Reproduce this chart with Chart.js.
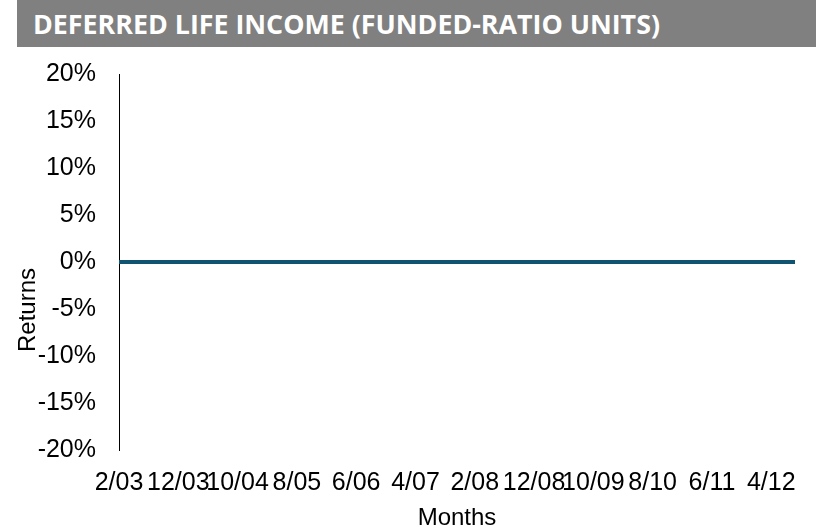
<!DOCTYPE html>
<html>
<head>
<meta charset="utf-8">
<script src="https://cdn.jsdelivr.net/npm/chart.js@4.4.1/dist/chart.umd.min.js"></script>
<style>
  html, body { margin: 0; padding: 0; background: #ffffff; }
  body { width: 816px; height: 529px; position: relative; overflow: hidden; }
  #hdr {
    position: absolute; left: 17px; top: 0px; width: 799px; height: 47px;
    background: #808080; color: #ffffff;
    font-family: "Open Sans", sans-serif; font-weight: 700; font-size: 26.8px;
    line-height: 48px; padding-left: 16px; box-sizing: border-box; white-space: nowrap;
  }
  #wrap { position: absolute; left: 0; top: 47px; width: 816px; height: 482px; }
</style>
</head>
<body>
<div id="hdr">DEFERRED LIFE INCOME (FUNDED-RATIO UNITS)</div>
<div id="wrap"><canvas id="c"></canvas></div>
<script>
// ---- data ----
const categories = [
  "2/03","3/03","4/03","5/03","6/03","7/03","8/03","9/03","10/03","11/03","12/03",
  "1/04","2/04","3/04","4/04","5/04","6/04","7/04","8/04","9/04","10/04","11/04","12/04",
  "1/05","2/05","3/05","4/05","5/05","6/05","7/05","8/05","9/05","10/05","11/05","12/05",
  "1/06","2/06","3/06","4/06","5/06","6/06","7/06","8/06","9/06","10/06","11/06","12/06",
  "1/07","2/07","3/07","4/07","5/07","6/07","7/07","8/07","9/07","10/07","11/07","12/07",
  "1/08","2/08","3/08","4/08","5/08","6/08","7/08","8/08","9/08","10/08","11/08","12/08",
  "1/09","2/09","3/09","4/09","5/09","6/09","7/09","8/09","9/09","10/09","11/09","12/09",
  "1/10","2/10","3/10","4/10","5/10","6/10","7/10","8/10","9/10","10/10","11/10","12/10",
  "1/11","2/11","3/11","4/11","5/11","6/11","7/11","8/11","9/11","10/11","11/11","12/11",
  "1/12","2/12","3/12","4/12","5/12","6/12","7/12","8/12"
];
const returnsValues = [
  0,0,0,0,0,0,0,0,0,0,0,
  0,0,0,0,0,0,0,0,0,0,0,0,
  0,0,0,0,0,0,0,0,0,0,0,0,
  0,0,0,0,0,0,0,0,0,0,0,0,
  0,0,0,0,0,0,0,0,0,0,0,0,
  0,0,0,0,0,0,0,0,0,0,0,0,
  0,0,0,0,0,0,0,0,0,0,0,0,
  0,0,0,0,0,0,0,0,0,0,0,0,
  0,0,0,0,0,0,0,0,0,0,0,0,
  0,0,0,0,0,0,0,0
];
const xTickLabels = ["2/03","12/03","10/04","8/05","6/06","4/07","2/08","12/08","10/09","8/10","6/11","4/12"];
const yTickValues = [20, 15, 10, 5, 0, -5, -10, -15, -20];
const yTitle = "Returns";
const xTitle = "Months";

const FONT = "'Liberation Sans', Arial, sans-serif";

const titlesPlugin = {
  id: 'axisTitles',
  afterDraw(chart) {
    const ctx = chart.ctx;
    const ca = chart.chartArea;
    ctx.save();
    ctx.fillStyle = '#000000';
    ctx.font = "24px " + FONT;
    ctx.textAlign = 'center';
    ctx.textBaseline = 'middle';
    ctx.fillText(xTitle, (ca.left + ca.right) / 2, 471);
    ctx.translate(28, 263);
    ctx.rotate(-Math.PI / 2);
    ctx.fillText(yTitle, 0, 0);
    ctx.restore();
  }
};

new Chart(document.getElementById('c'), {
  type: 'line',
  data: {
    labels: categories,
    datasets: [{
      data: returnsValues,
      borderColor: '#105472',
      borderWidth: 4,
      pointRadius: 0,
      pointHoverRadius: 0,
      fill: false,
      tension: 0
    }]
  },
  options: {
    responsive: true,
    maintainAspectRatio: false,
    animation: false,
    events: [],
    layout: { padding: { left: 0, right: 21, top: 27, bottom: 0 } },
    plugins: { legend: { display: false }, tooltip: { enabled: false }, title: { display: false } },
    scales: {
      x: {
        type: 'category',
        offset: false,
        grid: { display: false, drawTicks: false },
        border: { display: false },
        afterFit(scale) { scale.height = 79; scale.paddingLeft = 0; scale.paddingRight = 0; },
        ticks: {
          autoSkip: false,
          maxRotation: 0,
          minRotation: 0,
          padding: 18,
          color: '#000000',
          font: { family: FONT, size: 25 },
          callback(value) {
            const lab = this.getLabelForValue(value);
            return xTickLabels.includes(lab) ? lab : null;
          }
        }
      },
      y: {
        min: -20,
        max: 20,
        grid: { display: false, drawTicks: false },
        border: { display: true, color: '#000000', width: 1 },
        afterFit(scale) { scale.width = 119; scale.paddingTop = 0; scale.paddingBottom = 0; },
        afterBuildTicks(scale) { scale.ticks = yTickValues.map(v => ({ value: v })); },
        ticks: {
          padding: 23,
          color: '#000000',
          font: { family: FONT, size: 25 },
          callback(value) { return value + '%'; }
        }
      }
    }
  },
  plugins: [titlesPlugin]
});
</script>
</body>
</html>
